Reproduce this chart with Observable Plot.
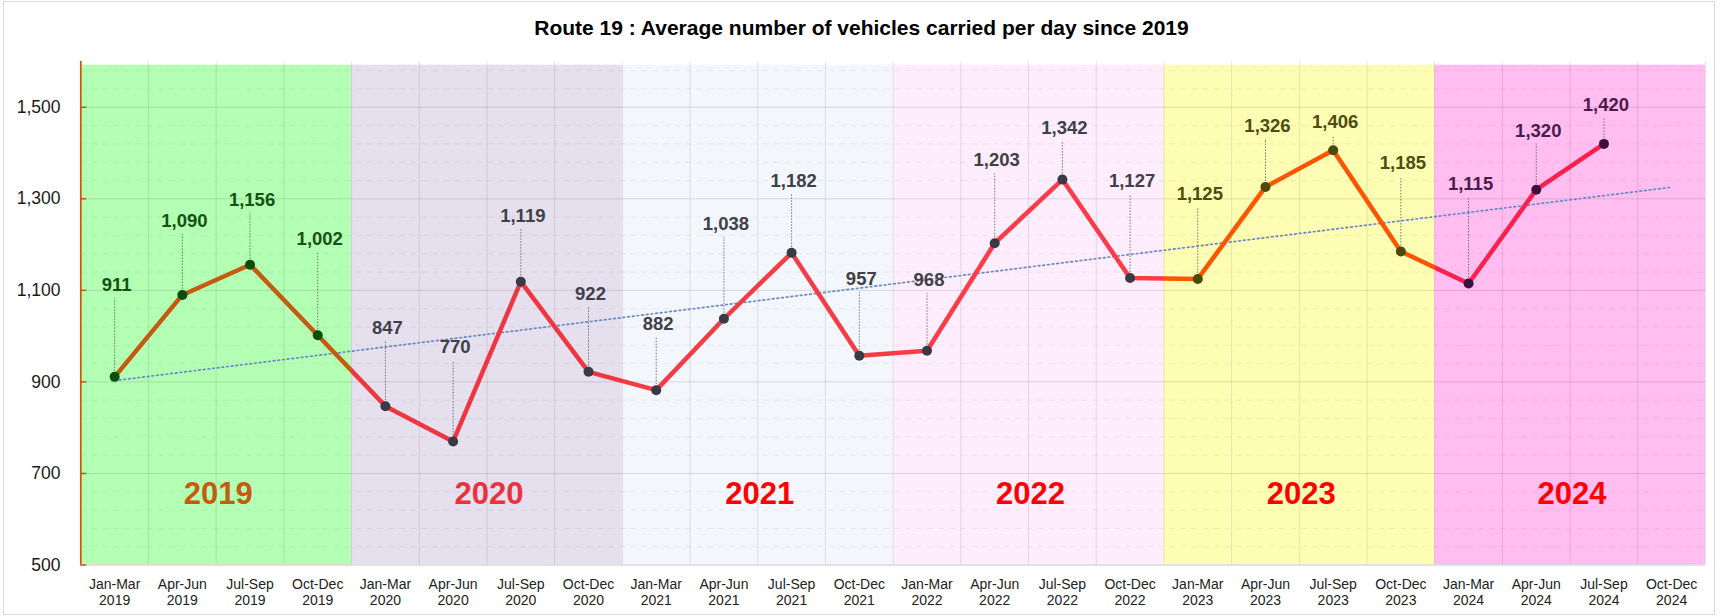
<!DOCTYPE html>
<html><head><meta charset="utf-8">
<script src="https://cdn.jsdelivr.net/npm/d3@7"></script>
<script src="https://cdn.jsdelivr.net/npm/@observablehq/plot@0.6"></script>
<style>
body{margin:0;background:#fff;font-family:"Liberation Sans",Arial,sans-serif;}
#wrap{position:relative;width:1723px;height:616px;overflow:hidden;background:#fff;}
#title{height:40px;box-sizing:border-box;padding-top:16.5px;text-align:center;font-weight:bold;font-size:21px;line-height:21px;color:#000;}
#frame{position:absolute;left:3px;top:1px;width:1710px;height:612px;border:1px solid #d9d9d9;pointer-events:none;z-index:2;}
</style></head><body>
<div id="wrap"><div id="title">Route 19 : Average number of vehicles carried per day since 2019</div><div id="chart"></div><div id="frame"></div></div>
<script>
// ---- data ----
const years = [2019, 2020, 2021, 2022, 2023, 2024];
const quarters = ["Jan-Mar", "Apr-Jun", "Jul-Sep", "Oct-Dec"];
const vehicles = [911, 1090, 1156, 1002, 847, 770, 1119, 922, 882, 1038, 1182, 957, 968, 1203, 1342, 1127, 1125, 1326, 1406, 1185, 1115, 1320, 1420];
const yTicks = [500, 700, 900, 1100, 1300, 1500];
const categories = years.flatMap(y => quarters.map(q => `${q}\n${y}`));

// ---- styles ----
const bandFill = ["#b3ffb3", "#e6e0ee", "#f3f6fb", "#fdedfd", "#fdfdb4", "#ffbdf0"];
const lineColor = ["#c55a11", "#ee3640", "#f53b45", "#ff3b48", "#ff5500", "#ff1f4f"];
const dotColor = ["#0d4d0d", "#3a3a46", "#3a3a46", "#3a3a46", "#4a4a0d", "#3d0f3d"];
const labelColor = ["#145214", "#404048", "#404048", "#404048", "#4d4d10", "#4b1a4b"];
const yearColor = ["#c55a11", "#e8333f", "#ff0000", "#ff0000", "#ff0000", "#ff0000"];
// label placement (pixels above each point)
const labelLift = [92, 74, 65, 96, 78, 94, 66, 78, 66, 95, 72, 77, 71, 83, 52, 97, 85, 61, 28, 88, 99, 59, 39];

const W = 1723, H = 576, mt = 21, mb = 51.5, ml = 80.3, mr = 18;
const ys = Plot.scale({y: {domain: [500, 1600], range: [H - mb, mt]}});

const points = vehicles.map((v, i) => ({i, x: i + 0.5, v, yi: Math.floor(i / 4)}));
const xm = d3.mean(points, d => d.x), ym = d3.mean(points, d => d.v);
const slope = d3.sum(points, d => (d.x - xm) * (d.v - ym)) / d3.sum(points, d => (d.x - xm) ** 2);
const trend = [0.5, 23.5].map(x => ({x, y: ym + slope * (x - xm)}));

const minor = d3.range(540, 1600, 40).filter(v => (v - 500) % 200 !== 0);
const major = yTicks.filter(v => v > 500);
const fmt = d3.format(",");

const chart = Plot.plot({
  width: W, height: H, marginLeft: ml, marginRight: mr, marginTop: mt, marginBottom: mb,
  style: {fontFamily: '"Liberation Sans", Arial, sans-serif', background: "transparent", overflow: "visible"},
  x: {domain: [0, 24], axis: null},
  y: {domain: [500, 1600], axis: null},
  color: {type: "identity"},
  marks: [
    Plot.rect(years, {x1: (d, i) => i * 4, x2: (d, i) => i * 4 + 4, y1: 500, y2: 1592, fill: (d, i) => bandFill[i]}),
    Plot.ruleY(minor, {stroke: "#000", strokeOpacity: 0.06, strokeDasharray: "6,5"}),
    Plot.ruleY(major, {stroke: "#000", strokeOpacity: 0.12}),
    Plot.ruleX(d3.range(1, 25), {stroke: "#000", strokeOpacity: 0.1}),
    Plot.ruleY([500], {stroke: "#d9d9d9", strokeWidth: 1.5}),
    Plot.ruleX([0], {stroke: "#c55a11", strokeWidth: 1.75}),
    Plot.line(trend, {x: "x", y: "y", stroke: "#6b86c9", strokeWidth: 1.7, strokeDasharray: "1.7,3"}),
    Plot.line(points, {x: "x", y: "v", stroke: "url(#segGrad)", strokeWidth: 4.5, strokeLinejoin: "round"}),
    Plot.link(points, {x1: "x", x2: "x", y1: "v", y2: d => ys.invert(ys.apply(d.v) - labelLift[d.i] + 13), stroke: "#555", strokeWidth: 0.8, strokeDasharray: "1.5,1.5"}),
    Plot.dot(points, {x: "x", y: "v", r: 5, fill: d => dotColor[d.yi]}),
    Plot.text(points, {x: "x", y: d => ys.invert(ys.apply(d.v) - labelLift[d.i]), text: d => fmt(d.v), fill: d => labelColor[d.yi], fontSize: 18.5, fontWeight: "bold", dx: 2}),
    Plot.text(years, {x: (d, i) => i * 4 + 2, y: 655, text: d => String(d), fill: (d, i) => yearColor[i], fontSize: 31, fontWeight: "bold", dx: 2}),
    Plot.axisX(d3.range(24).map(i => i + 0.5), {tickFormat: d => categories[Math.floor(d)], tickSize: 0, tickPadding: 12.5, fontSize: 14, lineHeight: 1.15, fill: "#222", label: null}),
    Plot.axisY(yTicks, {tickSize: 0, tickPadding: 20.3, fontSize: 17.5, fill: "#1a1a1a", tickFormat: fmt, label: null}),
    Plot.axisY(yTicks, {tickSize: -6, tickFormat: () => "", stroke: "#c55a11", strokeWidth: 1.5, label: null})
  ]
});

const xs = chart.scale("x");
const svg = d3.select(chart);
const defs = svg.insert("defs", ":first-child");
const grad = defs.append("linearGradient").attr("id", "segGrad").attr("gradientUnits", "userSpaceOnUse")
  .attr("x1", xs.apply(0)).attr("x2", xs.apply(24)).attr("y1", 0).attr("y2", 0);
years.forEach((y, k) => {
  grad.append("stop").attr("offset", k / 6).attr("stop-color", lineColor[k]);
  grad.append("stop").attr("offset", (k + 1) / 6).attr("stop-color", lineColor[k]);
});
document.getElementById("chart").appendChild(chart);
</script>
</body></html>
